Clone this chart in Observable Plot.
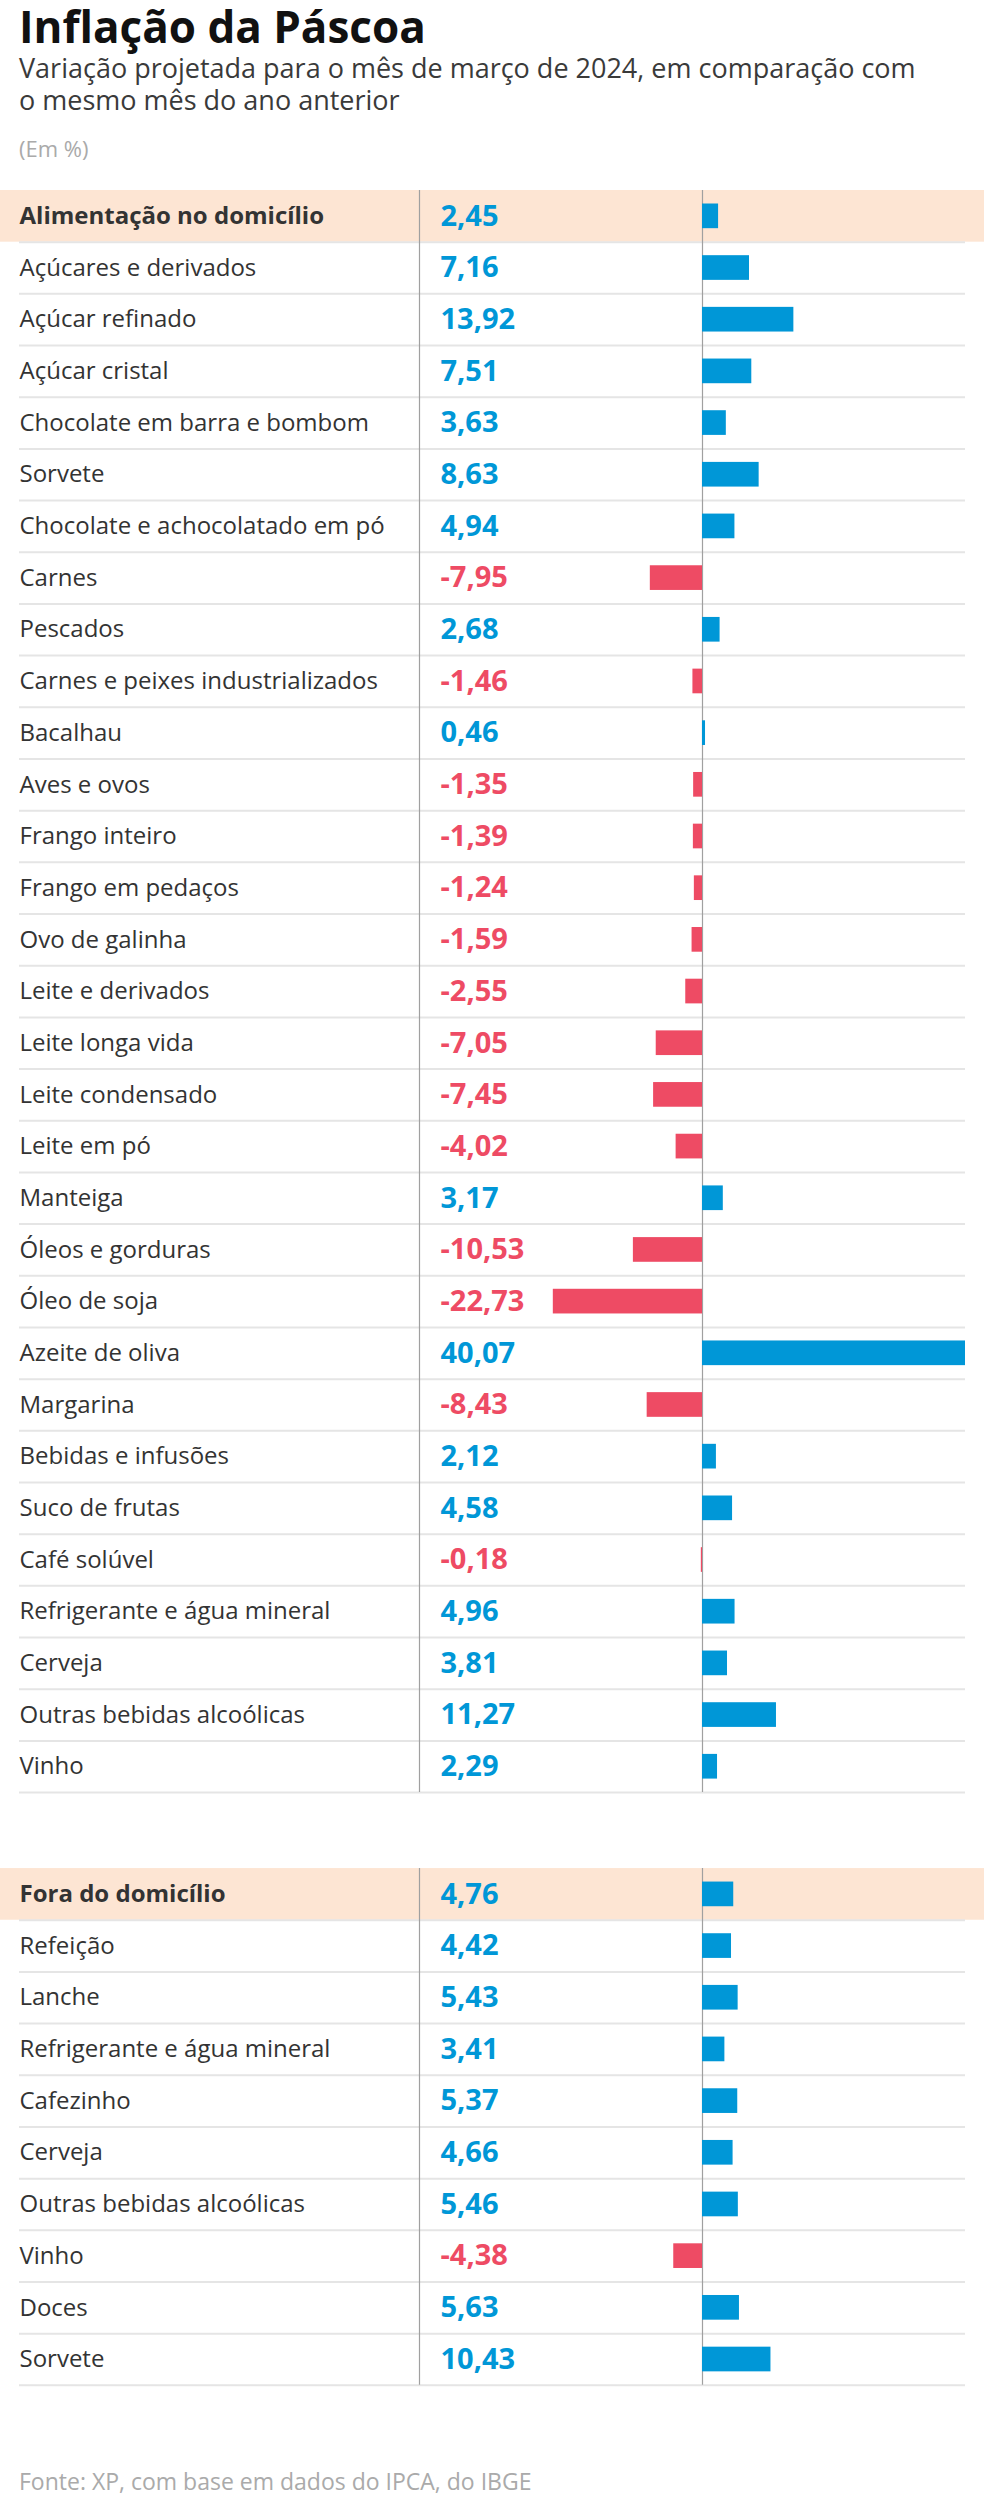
<!DOCTYPE html>
<html lang="pt-BR">
<head>
<meta charset="utf-8">
<script src="https://cdn.jsdelivr.net/npm/d3@7"></script>
<script src="https://cdn.jsdelivr.net/npm/@observablehq/plot@0.6"></script>
<style>
  html, body { margin: 0; padding: 0; background: #fff; }
  body { width: 984px; height: 2511px; position: relative; font-family: "Open Sans", sans-serif; }
  .abs { position: absolute; left: 19px; white-space: nowrap; }
  #title { top: 4px; font-size: 44px; line-height: 44px; font-weight: 700; color: #111; }
  #subtitle { top: 52px; font-size: 27px; line-height: 32px; color: #3a3a3a; }
  #note { top: 137px; font-size: 22px; line-height: 22px; color: #aaa; }
  #chart { position: absolute; left: 0; top: 180px; }
  #footer { top: 2470px; font-size: 23px; line-height: 23px; color: #aaa; }
</style>
</head>
<body>
<div id="title" class="abs">Inflação da Páscoa</div>
<div id="subtitle" class="abs">Variação projetada para o mês de março de 2024, em comparação com<br>o mesmo mês do ano anterior</div>
<div id="note" class="abs">(Em %)</div>
<div id="chart"></div>
<div id="footer" class="abs">Fonte: XP, com base em dados do IPCA, do IBGE</div>
<script>
// ---- Data ----
const homeLabels = [
  "Alimentação no domicílio",
  "Açúcares e derivados",
  "Açúcar refinado",
  "Açúcar cristal",
  "Chocolate em barra e bombom",
  "Sorvete",
  "Chocolate e achocolatado em pó",
  "Carnes",
  "Pescados",
  "Carnes e peixes industrializados",
  "Bacalhau",
  "Aves e ovos",
  "Frango inteiro",
  "Frango em pedaços",
  "Ovo de galinha",
  "Leite e derivados",
  "Leite longa vida",
  "Leite condensado",
  "Leite em pó",
  "Manteiga",
  "Óleos e gorduras",
  "Óleo de soja",
  "Azeite de oliva",
  "Margarina",
  "Bebidas e infusões",
  "Suco de frutas",
  "Café solúvel",
  "Refrigerante e água mineral",
  "Cerveja",
  "Outras bebidas alcoólicas",
  "Vinho"
];
const homeValues = [
  2.45, 7.16, 13.92, 7.51, 3.63, 8.63, 4.94, -7.95, 2.68, -1.46, 0.46,
  -1.35, -1.39, -1.24, -1.59, -2.55, -7.05, -7.45, -4.02, 3.17, -10.53,
  -22.73, 40.07, -8.43, 2.12, 4.58, -0.18, 4.96, 3.81, 11.27, 2.29
];
const awayLabels = [
  "Fora do domicílio",
  "Refeição",
  "Lanche",
  "Refrigerante e água mineral",
  "Cafezinho",
  "Cerveja",
  "Outras bebidas alcoólicas",
  "Vinho",
  "Doces",
  "Sorvete"
];
const awayValues = [4.76, 4.42, 5.43, 3.41, 5.37, 4.66, 5.46, -4.38, 5.63, 10.43];

// ---- Layout constants (pixels) ----
const ROW_H = 51.68;
const SECTION_GAP = 1.47;       // gap between the two tables, in rows
const TOP = 10;
const ZERO_X = 702, MAX_X = 965;
const LABEL_X = 19, VALUE_X = 440, VALUE_COL_X = 419;
const BLUE = "#0097d7", RED = "#ee4b64", BAND = "#fde5d3";

// ---- Build rows ----
const rows = [];
homeLabels.forEach((label, i) => rows.push({label, value: homeValues[i], header: i === 0, slot: i}));
const s2 = homeLabels.length + SECTION_GAP;
awayLabels.forEach((label, i) => rows.push({label, value: awayValues[i], header: i === 0, slot: s2 + i}));
const totalSlots = s2 + awayLabels.length;
const sections = [
  {start: 0, end: homeLabels.length},
  {start: s2, end: totalSlots}
];
const fmt = v => v.toFixed(2).replace(".", ",");
const col = d => d.value < 0 ? RED : BLUE;

const chart = Plot.plot({
  width: 984,
  height: 2240,
  margin: 0,
  style: {fontFamily: "'Open Sans', sans-serif", background: "transparent", overflow: "visible"},
  x: {domain: [0, d3.max(rows, d => d.value)], range: [ZERO_X, MAX_X], axis: null},
  y: {domain: [0, totalSlots], range: [TOP, TOP + totalSlots * ROW_H], axis: null},
  marks: [
    Plot.rect(rows.filter(d => d.header), {y1: "slot", y2: d => d.slot + 1, fill: BAND}),
    Plot.ruleY(rows, {y: d => d.slot + 1, insetLeft: LABEL_X, insetRight: 984 - MAX_X, stroke: "#e5e5e5", strokeWidth: 2}),
    Plot.ruleX(sections, {x: () => 0, y1: "start", y2: "end", stroke: "#a0a0a0", strokeWidth: 1.2}),
    Plot.ruleX(sections, {x: () => 0, y1: "start", y2: "end", dx: VALUE_COL_X - ZERO_X, stroke: "#a0a0a0", strokeWidth: 1.2}),
    Plot.rect(rows, {x1: () => 0, x2: "value", y1: "slot", y2: d => d.slot + 1, insetTop: 13.5, insetBottom: 13.5, fill: col}),
    Plot.text(rows.filter(d => !d.header), {y: d => d.slot + 0.5, text: "label", frameAnchor: "left", textAnchor: "start", dx: LABEL_X, fontSize: 24, fill: "#333"}),
    Plot.text(rows.filter(d => d.header), {y: d => d.slot + 0.5, text: "label", frameAnchor: "left", textAnchor: "start", dx: LABEL_X, fontSize: 24, fontWeight: "bold", fill: "#333"}),
    Plot.text(rows, {y: d => d.slot + 0.5, text: d => fmt(d.value), frameAnchor: "left", textAnchor: "start", dx: VALUE_X, fontSize: 29, fontWeight: "bold", fill: col})
  ]
});
document.getElementById("chart").appendChild(chart);
</script>
</body>
</html>
